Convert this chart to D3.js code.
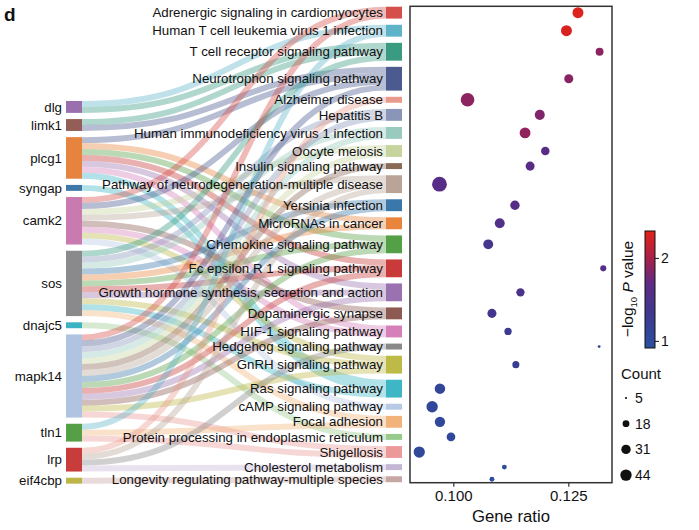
<!DOCTYPE html>
<html lang="en">
<head>
<meta charset="UTF-8">
<title>Pathway sankey + dot plot</title>
<style>
  body { margin: 0; background: #fff; }
  text { font-family: "Liberation Sans", Arial, Helvetica, sans-serif; fill: #111; }
</style>
</head>
<body>
<script src="https://cdn.jsdelivr.net/npm/d3@7"></script>
<script>
// genes (left column)
var genes = ["dlg", "limk1", "plcg1", "syngap", "camk2", "sos", "dnajc5", "mapk14", "tln1", "lrp", "eif4cbp"];
var geneColors = ["#9a6fae", "#935e55", "#e6833e", "#3f77a8", "#c97bb1", "#8a898b", "#3cb3c3", "#b0c4e2", "#55a047", "#c83c3c", "#bcb548"];

// pathways (right column), top to bottom
var pathways = [
  "Adrenergic signaling in cardiomyocytes", "Human T cell leukemia virus 1 infection",
  "T cell receptor signaling pathway", "Neurotrophon signaling pathway", "Alzheimer disease",
  "Hepatitis B", "Human immunodeficiency virus 1 infection", "Oocyte meiosis",
  "Insulin signaling pathway", "Pathway of neurodegeneration-multiple disease",
  "Yersinia infection", "MicroRNAs in cancer", "Chemokine signaling pathway",
  "Fc epsilon R 1 signaling pathway", "Growth hormone synthesis, secretion and action",
  "Dopaminergic synapse", "HIF-1 signaling pathway", "Hedgehog signaling pathway",
  "GnRH signaling pathway", "Ras signaling pathway", "cAMP signaling pathway",
  "Focal adhesion", "Protein processing in endoplasmic reticulum", "Shigellosis",
  "Cholesterol metabolism", "Longevity regulating pathway-multiple species"
];
var pathwayColors = ["#d5504a", "#5fb3c9", "#3a9a82", "#4b5a8f", "#e89a8b", "#8a96b9", "#98cbbd", "#c6d59e",
  "#8b6a56", "#b9a497", "#3a78ab", "#e8843b", "#54a046", "#c93a3a", "#9a72b0", "#8c5a50",
  "#d580b8", "#898989", "#bdba47", "#3db7c6", "#b7c9e4", "#f2b37b", "#97ca8b", "#ec9999",
  "#c5b6d6", "#c8a6a1"];

// pathway indices each gene links to
var geneTargets = [
  [1, 2],
  [2, 3],
  [3, 11, 12, 13, 14, 16, 19],
  [19],
  [0, 3, 7, 9, 15, 16, 18, 20],
  [2, 5, 6, 10, 11, 12, 13, 14, 18, 19, 21],
  [22],
  [0, 3, 5, 6, 7, 8, 9, 10, 12, 13, 14, 15, 18, 23],
  [1, 21, 23],
  [4, 9, 17, 24],
  [25]
];

// dot plot values, same order as pathways
var geneRatio = [0.1271, 0.1246, 0.1318, 0.1251, 0.1031, 0.1188, 0.1156, 0.1200, 0.1167, 0.0970,
  0.1134, 0.1101, 0.1076, 0.1326, 0.1146, 0.1084, 0.1119, 0.1317, 0.1136, 0.0971,
  0.0954, 0.0971, 0.0995, 0.0926, 0.1111, 0.1084];
var counts = [41, 41, 23, 29, 62, 35, 40, 26, 29, 72,
  31, 34, 34, 15, 25, 29, 20, 6, 19, 38,
  44, 37, 27, 43, 11, 11];
var logP = [2.30, 2.27, 1.88, 1.87, 1.88, 1.83, 1.90, 1.60, 1.63, 1.62,
  1.60, 1.55, 1.42, 1.58, 1.48, 1.40, 1.28, 1.15, 1.25, 1.10,
  1.07, 1.07, 1.05, 1.04, 0.98, 0.96];

var xTicks = [0.100, 0.125];
var cbTicks = [1, 2];
var countLegend = [5, 18, 31, 44];

var W = 699, H = 530;
var svg = d3.select("body").append("svg").attr("width", W).attr("height", H);

// ---------- sankey layout (hand rolled, unit value per link) ----------
var unit = 5.94, gap = 6.19;
var leftX = 66, rightX = 386, nodeW = 16;

var links = [];
geneTargets.forEach(function(ts, g) {
  ts.forEach(function(t) { links.push({ s: g, t: t }); });
});

function stack(n, key, top) {
  var y = top, out = [];
  for (var i = 0; i < n; i++) {
    var v = links.filter(function(l) { return l[key] === i; }).length;
    out.push({ y0: y, y1: y + v * unit, v: v });
    y += v * unit + gap;
  }
  return out;
}
var gNodes = stack(genes.length, "s", 101);
var pNodes = stack(pathways.length, "t", 6.7);

// link offsets: at source sorted by target, at target sorted by source
gNodes.forEach(function(n, i) {
  var ls = links.filter(function(l) { return l.s === i; }).sort(function(a, b) { return a.t - b.t; });
  ls.forEach(function(l, j) { l.ys = n.y0 + (j + 0.5) * unit; });
});
pNodes.forEach(function(n, i) {
  var ls = links.filter(function(l) { return l.t === i; }).sort(function(a, b) { return a.s - b.s; });
  ls.forEach(function(l, j) { l.yt = n.y0 + (j + 0.5) * unit; });
});

var linkGen = d3.linkHorizontal().x(function(d) { return d[0]; }).y(function(d) { return d[1]; });

svg.append("g").selectAll("path")
  .data(links)
  .enter().append("path")
  .attr("d", function(l) { return linkGen({ source: [leftX + nodeW, l.ys], target: [rightX, l.yt] }); })
  .attr("fill", "none")
  .attr("stroke", function(l) { return pathwayColors[l.t]; })
  .attr("stroke-opacity", 0.4)
  .attr("stroke-width", unit);

// gene nodes + labels
var gl = svg.append("g");
gl.selectAll("rect").data(gNodes).enter().append("rect")
  .attr("x", leftX).attr("width", nodeW)
  .attr("y", function(d) { return d.y0; })
  .attr("height", function(d) { return d.y1 - d.y0; })
  .attr("fill", function(d, i) { return geneColors[i]; });
gl.selectAll("text").data(gNodes).enter().append("text")
  .attr("x", leftX - 4)
  .attr("y", function(d) { return (d.y0 + d.y1) / 2; })
  .attr("dy", "0.35em")
  .attr("text-anchor", "end")
  .style("font-size", "13.3px")
  .text(function(d, i) { return genes[i]; });

// pathway nodes + labels
var pl = svg.append("g");
pl.selectAll("rect").data(pNodes).enter().append("rect")
  .attr("x", rightX).attr("width", nodeW)
  .attr("y", function(d) { return d.y0; })
  .attr("height", function(d) { return d.y1 - d.y0; })
  .attr("fill", function(d, i) { return pathwayColors[i]; });
pl.selectAll("text").data(pNodes).enter().append("text")
  .attr("x", rightX - 3)
  .attr("y", function(d) { return (d.y0 + d.y1) / 2; })
  .attr("dy", "0.35em")
  .attr("text-anchor", "end")
  .style("font-size", "13.3px")
  .text(function(d, i) { return pathways[i]; });

// ---------- dot plot ----------
var px0 = 410, px1 = 612, py0 = 6.3, py1 = 482.7;
var x = d3.scaleLinear().domain([0.09059, 0.1345]).range([px0, px1]);
var color = d3.scaleLinear()
  .domain([0.92, 1.3, 1.7, 2.0, 2.33])
  .range(["#2b50a0", "#3b3a90", "#5f2a85", "#a82048", "#e32219"]);
var area = d3.scaleLinear().domain([5, 44]).range([1.2, 32.5]);
function rad(c) { return Math.sqrt(area(c)); }

svg.append("g").selectAll("circle")
  .data(pathways)
  .enter().append("circle")
  .attr("cx", function(d, i) { return x(geneRatio[i]); })
  .attr("cy", function(d, i) { return (pNodes[i].y0 + pNodes[i].y1) / 2; })
  .attr("r", function(d, i) { return rad(counts[i]); })
  .attr("fill", function(d, i) { return color(logP[i]); });

svg.append("rect")
  .attr("x", px0).attr("y", py0)
  .attr("width", px1 - px0).attr("height", py1 - py0)
  .attr("fill", "none").attr("stroke", "#333").attr("stroke-width", 1.5);

var xAxis = svg.append("g")
  .attr("transform", "translate(0," + py1 + ")")
  .call(d3.axisBottom(x).tickValues(xTicks).tickFormat(d3.format(".3f")).tickSize(4).tickPadding(4));
xAxis.select(".domain").remove();
xAxis.selectAll("line").attr("stroke", "#333").attr("stroke-width", 1.2);
xAxis.selectAll("text").style("font-size", "15px").attr("fill", "#111")
  .style("font-family", "'Liberation Sans', Arial, sans-serif");

svg.append("text")
  .attr("x", (px0 + px1) / 2).attr("y", 522)
  .attr("text-anchor", "middle")
  .style("font-size", "16.7px")
  .text("Gene ratio");

// ---------- colour bar ----------
var cbX = 645, cbW = 10, cbTop = 231, cbBot = 348;
var cb = d3.scaleLinear().domain([0.92, 2.33]).range([cbBot, cbTop]);
var grad = svg.append("defs").append("linearGradient")
  .attr("id", "cbgrad").attr("x1", 0).attr("y1", 1).attr("x2", 0).attr("y2", 0);
d3.range(0, 1.0001, 0.05).forEach(function(f) {
  grad.append("stop").attr("offset", f).attr("stop-color", color(0.92 + f * (2.33 - 0.92)));
});
svg.append("rect")
  .attr("x", cbX).attr("y", cbTop).attr("width", cbW).attr("height", cbBot - cbTop)
  .attr("fill", "url(#cbgrad)").attr("stroke", "#111").attr("stroke-width", 1);
svg.append("g").selectAll("line").data(cbTicks).enter().append("line")
  .attr("x1", cbX + cbW).attr("x2", cbX + cbW + 4)
  .attr("y1", function(d) { return cb(d); }).attr("y2", function(d) { return cb(d); })
  .attr("stroke", "#111");
svg.append("g").selectAll("text").data(cbTicks).enter().append("text")
  .attr("x", cbX + cbW + 6)
  .attr("y", function(d) { return cb(d); })
  .attr("dy", "0.35em")
  .style("font-size", "14px")
  .text(function(d) { return d; });

var cbt = svg.append("text")
  .attr("transform", "translate(633,289) rotate(-90)")
  .attr("text-anchor", "middle")
  .style("font-size", "15.5px");
cbt.append("tspan").text("\u2212log");
cbt.append("tspan").attr("dy", 4).style("font-size", "9.5px").text("10");
cbt.append("tspan").attr("dy", -4).text(" ");
cbt.append("tspan").style("font-style", "italic").text("P");
cbt.append("tspan").text(" value");

// ---------- count legend ----------
svg.append("text").attr("x", 621).attr("y", 379).style("font-size", "15px").text("Count");
var lg = svg.append("g").selectAll("g").data(countLegend).enter().append("g")
  .attr("transform", function(d, i) { return "translate(626," + (398 + i * 25.7) + ")"; });
lg.append("circle").attr("r", function(d) { return rad(d); }).attr("fill", "#111");
lg.append("text").attr("x", 9).attr("dy", "0.35em").style("font-size", "14px")
  .text(function(d) { return d; });

// panel letter
svg.append("text").attr("x", 4).attr("y", 21)
  .style("font-size", "19px").style("font-weight", "bold").text("d");
</script>
</body>
</html>
